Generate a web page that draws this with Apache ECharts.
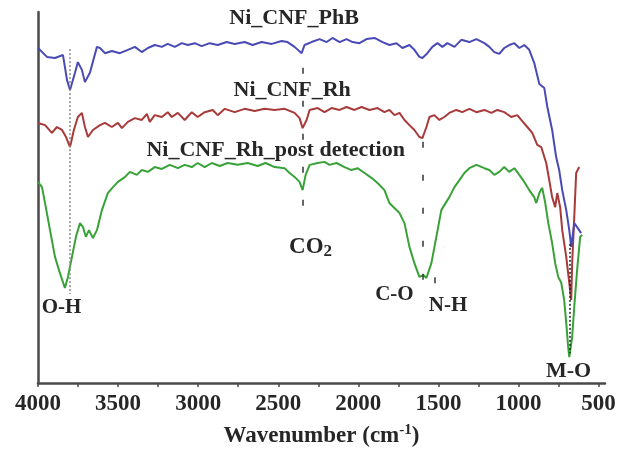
<!DOCTYPE html>
<html>
<head>
<meta charset="utf-8">
<title>FTIR spectra</title>
<script src="https://cdn.jsdelivr.net/npm/echarts@6/dist/echarts.min.js"></script>
<style>
  html, body { margin: 0; padding: 0; background: #fff; }
  #chart { width: 618px; height: 451px; }
</style>
</head>
<body>
<div id="chart"></div>
<script>
// wavenumber (cm-1) and transmittance (a.u.)
const phbWn = [4000, 3944, 3894, 3844, 3819, 3800, 3769, 3751, 3726, 3707, 3676, 3632, 3613, 3582, 3539, 3489, 3439, 3395, 3352, 3314,
  3271, 3227, 3190, 3146, 3102, 3065, 3021, 2978, 2928, 2878, 2822, 2772, 2710, 2660, 2604, 2541, 2479, 2442, 2398, 2354,
  2336, 2292, 2242, 2198, 2161, 2117, 2074, 2036, 1993, 1949, 1899, 1849, 1806, 1762, 1725, 1681, 1650, 1619, 1600, 1569,
  1538, 1506, 1475, 1444, 1400, 1357, 1307, 1263, 1213, 1182, 1151, 1120, 1089, 1058, 1026, 995, 964, 933, 902, 870,
  839, 820, 790, 765, 746, 727, 702, 683, 671, 652, 634, 609];
const phbT = [90.3, 87.9, 87.6, 88.4, 81.7, 79.0, 83.6, 86.5, 84.4, 81.1, 83.6, 90.6, 90.3, 88.9, 89.5, 88.9, 89.8, 90.6, 89.2, 90.3,
  91.1, 90.6, 91.4, 90.6, 91.6, 91.1, 91.6, 90.8, 91.6, 91.1, 91.9, 91.4, 91.9, 91.1, 91.9, 91.4, 92.2, 91.9, 90.6, 88.9,
  91.1, 91.9, 92.7, 91.9, 93.0, 91.9, 92.7, 91.9, 91.6, 92.7, 93.0, 91.9, 91.1, 91.6, 90.3, 91.1, 89.8, 87.9, 87.6, 88.9,
  90.6, 91.6, 90.6, 91.6, 90.6, 92.5, 91.9, 92.7, 91.6, 90.6, 89.2, 88.7, 90.3, 91.1, 91.6, 90.3, 91.1, 89.8, 86.3, 80.6,
  79.5, 74.4, 68.2, 60.9, 57.4, 52.0, 46.6, 41.2, 36.7, 43.1, 42.0, 40.4];

const rhWn = [4000, 3956, 3913, 3882, 3850, 3825, 3800, 3776, 3751, 3726, 3707, 3688, 3657, 3645, 3613, 3582, 3539, 3501, 3476, 3439,
  3395, 3352, 3320, 3302, 3271, 3227, 3190, 3165, 3127, 3084, 3040, 3003, 2959, 2909, 2878, 2834, 2772, 2710, 2647, 2585,
  2523, 2460, 2398, 2367, 2348, 2323, 2304, 2254, 2211, 2167, 2117, 2074, 2024, 1980, 1930, 1880, 1837, 1806, 1774, 1743,
  1712, 1681, 1650, 1619, 1600, 1575, 1556, 1525, 1494, 1463, 1432, 1388, 1351, 1307, 1263, 1213, 1170, 1132, 1089, 1045,
  1008, 983, 945, 914, 883, 858, 827, 808, 790, 771, 758, 740, 727, 702, 683, 671, 665, 652, 640, 621];
const rhT = [70.1, 69.5, 67.4, 69.0, 68.2, 66.3, 63.6, 68.2, 71.7, 72.8, 69.0, 66.3, 68.2, 68.2, 69.5, 70.1, 69.0, 70.1, 68.7, 70.4,
  71.4, 70.9, 72.5, 70.4, 72.2, 71.7, 73.0, 71.7, 72.8, 70.9, 73.0, 71.7, 73.0, 73.6, 72.2, 73.9, 73.0, 73.9, 73.3, 73.9,
  73.6, 73.9, 72.8, 71.4, 68.7, 70.9, 73.6, 74.1, 73.0, 74.1, 73.6, 74.4, 73.6, 74.4, 73.6, 74.1, 73.0, 73.6, 72.2, 72.8,
  70.9, 69.5, 68.2, 66.3, 66.0, 69.0, 71.7, 72.2, 70.9, 71.7, 72.8, 73.6, 73.0, 73.9, 73.0, 73.6, 72.8, 73.6, 73.0, 71.7,
  72.2, 70.9, 69.0, 67.4, 64.2, 63.6, 59.3, 54.7, 50.1, 47.4, 51.2, 47.4, 41.2, 34.0, 27.0, 22.4, 32.3, 44.7, 56.6, 58.2];

const postWn = [4000, 3975, 3956, 3925, 3894, 3863, 3832, 3813, 3788, 3763, 3738, 3719, 3701, 3682, 3657, 3632, 3601, 3564, 3532, 3501,
  3458, 3426, 3383, 3352, 3314, 3271, 3227, 3177, 3127, 3084, 3040, 3003, 2959, 2915, 2865, 2816, 2753, 2691, 2629, 2579,
  2523, 2460, 2429, 2392, 2367, 2348, 2329, 2304, 2254, 2211, 2180, 2136, 2086, 2043, 2005, 1961, 1918, 1880, 1837, 1806,
  1743, 1712, 1681, 1650, 1619, 1594, 1575, 1544, 1513, 1482, 1432, 1400, 1369, 1338, 1307, 1263, 1213, 1182, 1151, 1120,
  1089, 1058, 1026, 995, 964, 933, 902, 889, 870, 852, 833, 814, 790, 771, 752, 733, 715, 702, 690, 683,
  665, 652, 634, 615, 602];
const postT = [54.2, 52.8, 48.5, 41.2, 34.0, 29.6, 25.6, 28.6, 34.0, 39.4, 43.1, 42.0, 39.4, 41.2, 39.1, 41.2, 46.6, 51.2, 52.8, 54.2,
  55.5, 56.9, 56.1, 57.4, 56.9, 58.2, 57.7, 58.8, 57.9, 58.8, 58.2, 59.3, 58.2, 59.3, 58.5, 59.3, 58.8, 59.3, 58.5, 59.3,
  58.2, 57.9, 56.6, 55.3, 54.2, 52.0, 56.1, 58.8, 59.3, 59.6, 58.8, 59.3, 58.2, 57.4, 57.9, 56.6, 55.3, 53.9, 52.0, 48.5,
  45.8, 43.1, 36.7, 32.3, 28.6, 29.1, 28.3, 32.3, 39.4, 46.6, 50.1, 52.8, 54.7, 56.6, 57.9, 58.8, 57.9, 57.4, 56.1, 56.9,
  58.2, 56.9, 57.9, 56.1, 54.2, 52.0, 50.1, 48.5, 51.2, 52.6, 48.5, 43.1, 37.7, 32.3, 28.6, 27.0, 22.4, 16.2, 9.7, 7.0,
  12.4, 20.5, 30.5, 39.4, 39.9];

const seriesNames = ['Ni_CNF_PhB', 'Ni_CNF_Rh', 'Ni_CNF_Rh_post detection'];
const seriesColors = ['#4a4ab4', '#a83a3a', '#38a238'];

const majorTicks = [4000, 3500, 3000, 2500, 2000, 1500, 1000, 500];
const minorTicks = [4000, 3750, 3500, 3250, 3000, 2750, 2500, 2250, 2000, 1750, 1500, 1250, 1000, 750, 500];

// annotation labels: [text, wavenumber, transmittance, font size]
const peakLabels = [
  ['Ni_CNF_PhB', 2401, 98.2, 22],
  ['Ni_CNF_Rh', 2413, 79.0, 22],
  ['Ni_CNF_Rh_post detection', 2516, 62.6, 22],
  ['{b|CO}{s|2}', 2298, 36.7, 22],
  ['O-H', 3853, 20.2, 21],
  ['C-O', 1775, 23.7, 21],
  ['N-H', 1440, 21.0, 21],
  ['M-O', 688, 3.2, 22]
];

// guide lines: [wavenumber, from, to, style]
const guides = [
  [3800, 90.0, 24.0, 'dot'],
  [2350, 85.0, 46.0, 'dash'],
  [1600, 65.0, 26.5, 'dash'],
  [1525, 28.5, 25.4, 'dash'],
  [683, 37.5, 8.0, 'darkdot']
];

const zip = (xs, ys) => xs.map((x, i) => [x, ys[i]]);
const font = '"Liberation Serif", "Times New Roman", serif';
const ink = '#262626';

const guideStyle = {
  dot: { color: '#8a8a8a', type: [2, 2], width: 1.5 },
  dash: { color: '#333', type: [6, 27], width: 1.5 },
  darkdot: { color: '#222', type: [2, 2], width: 1.5 }
};

function buildOption() {
  const data = [zip(phbWn, phbT), zip(rhWn, rhT), zip(postWn, postT)];
  const series = data.map((d, i) => ({
    name: seriesNames[i],
    type: 'line',
    data: d,
    symbol: 'none',
    smooth: false,
    lineStyle: { color: seriesColors[i], width: 2 },
    z: 3 - i
  }));

  // guide lines + labels
  series.push({
    type: 'line',
    data: [],
    silent: true,
    markLine: {
      symbol: ['none', 'none'],
      label: { show: false },
      silent: true,
      data: guides.map(g => [
        { coord: [g[0], g[1]], lineStyle: guideStyle[g[3]] },
        { coord: [g[0], g[2]] }
      ])
    },
    markPoint: {
      symbol: 'circle',
      symbolSize: 1,
      itemStyle: { color: 'rgba(0,0,0,0)' },
      silent: true,
      data: peakLabels.map(p => ({
        coord: [p[1], p[2]],
        label: {
          show: true,
          position: 'inside',
          formatter: p[0],
          color: ink,
          fontFamily: font,
          fontWeight: 'bold',
          fontSize: p[3],
          rich: {
            b: { fontFamily: font, fontWeight: 'bold', fontSize: 23, color: ink },
            s: { fontFamily: font, fontWeight: 'bold', fontSize: 17, color: ink, padding: [10, 0, 0, 0] }
          }
        }
      }))
    }
  });

  return {
    animation: false,
    backgroundColor: '#fff',
    grid: { left: 38, right: 13, top: 12, bottom: 68, containLabel: false, outerBoundsMode: 'none' },
    xAxis: {
      type: 'value',
      inverse: true,
      min: 460,
      max: 4000,
      name: 'Wavenumber (cm{sup|-1})',
      nameLocation: 'middle',
      nameGap: 40,
      nameTextStyle: {
        fontFamily: font,
        fontWeight: 'bold',
        fontSize: 23,
        color: ink,
        rich: {
          sup: { fontFamily: font, fontWeight: 'bold', fontSize: 15, color: ink, padding: [0, 0, 12, 0] }
        }
      },
      axisLine: { onZero: false, lineStyle: { color: '#4a4a4a', width: 2.5 } },
      axisTick: { show: true, length: 4, customValues: minorTicks, lineStyle: { color: '#4a4a4a', width: 1.5 } },
      axisLabel: {
        customValues: majorTicks,
        formatter: v => String(v),
        margin: 10,
        fontFamily: font,
        fontWeight: 'bold',
        fontSize: 23,
        color: ink
      },
      splitLine: { show: false }
    },
    yAxis: {
      type: 'value',
      min: 0,
      max: 100,
      axisLine: { show: true, lineStyle: { color: '#4a4a4a', width: 2.5 } },
      axisTick: { show: false },
      axisLabel: { show: false },
      splitLine: { show: false }
    },
    series: series
  };
}

window.addEventListener('load', () => {
  const chart = echarts.init(document.getElementById('chart'), null, { renderer: 'canvas' });
  chart.setOption(buildOption());
});
</script>
</body>
</html>
